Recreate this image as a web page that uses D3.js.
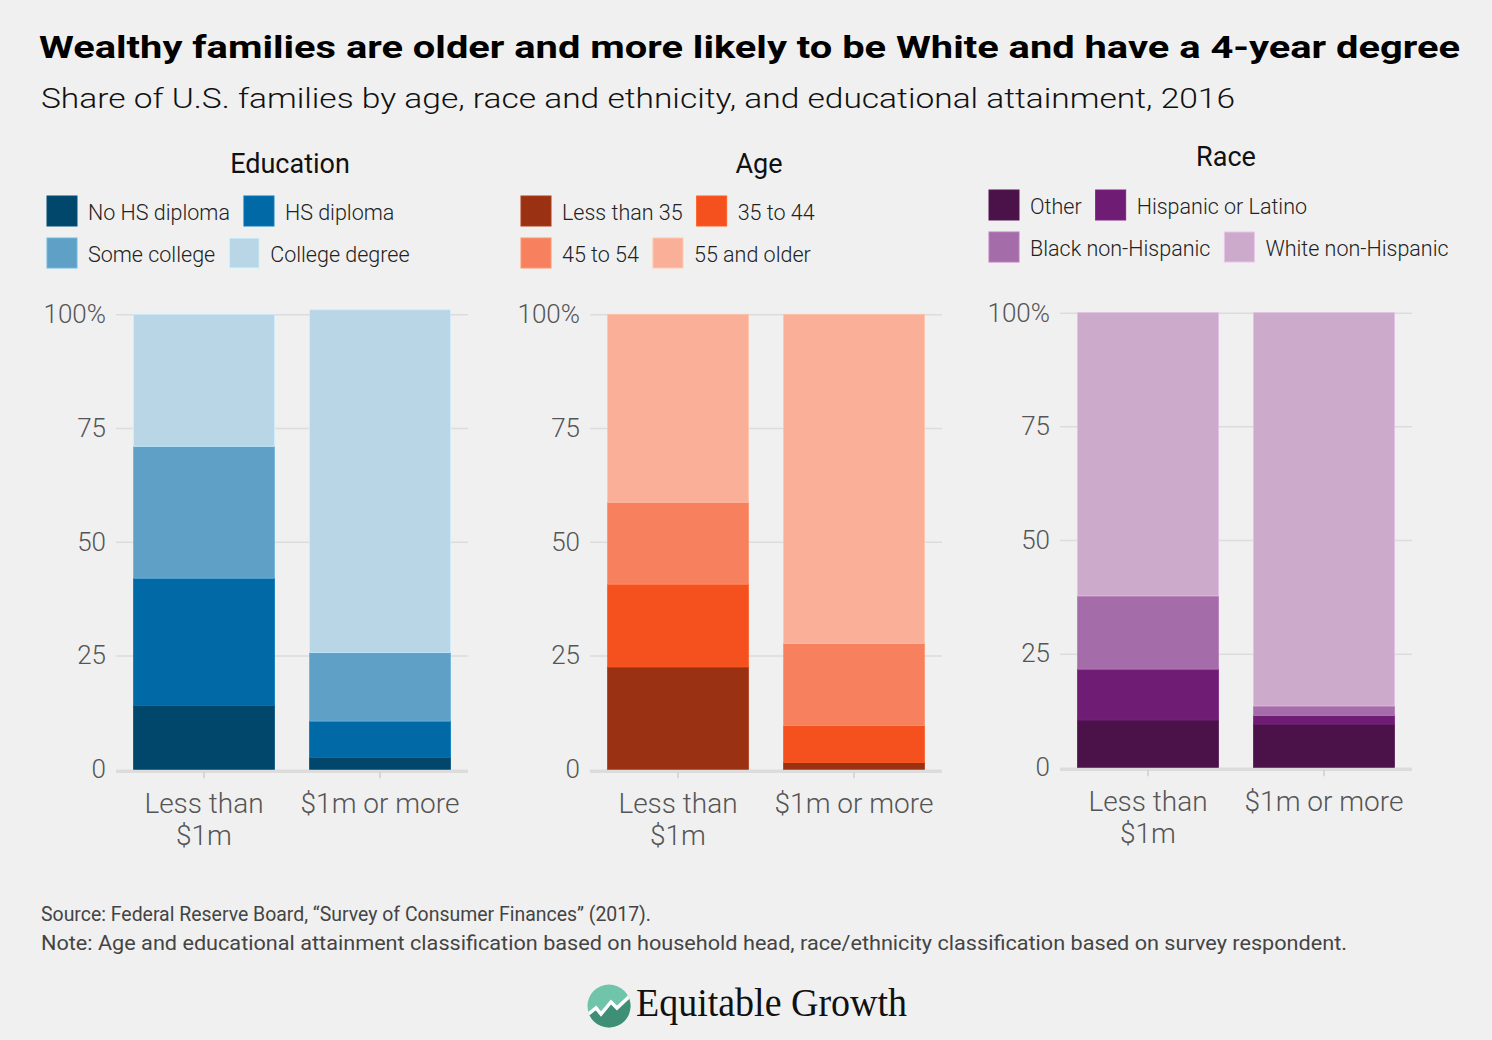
<!DOCTYPE html>
<html>
<head>
<meta charset="utf-8">
<script src="https://cdn.jsdelivr.net/npm/d3@7"></script>
<style>
  html, body { margin: 0; padding: 0; background: #f0f0f0; }
  svg { display: block; }
  text { font-family: Roboto, "Noto Sans", sans-serif; }
  text.serif { font-family: "Liberation Serif", "DejaVu Serif", serif; }
</style>
</head>
<body>
<svg id="chart" width="1492" height="1040"></svg>
<script>
// ---------------- DATA ----------------
const categories = ["Less than $1m", "$1m or more"];
const categoryLabels = [["Less than", "$1m"], ["$1m or more"]];
const yTicks = [0, 25, 50, 75, 100];

const educationKeys = ["No HS diploma", "HS diploma", "Some college", "College degree"];
const educationLess = [14, 28, 29, 29];
const educationMore = [2.6, 8, 15.1, 75.3];

const ageKeys = ["Less than 35", "35 to 44", "45 to 54", "55 and older"];
const ageLess = [22.5, 18.2, 18, 41.3];
const ageMore = [1.5, 8.1, 18.1, 72.3];

const raceKeys = ["Other", "Hispanic or Latino", "Black non-Hispanic", "White non-Hispanic"];
const raceLess = [10.4, 11.2, 16.1, 62.3];
const raceMore = [9.5, 1.9, 2.1, 86.5];

const educationColors = ["#01466b", "#0269a7", "#5ea0c6", "#b9d6e7"];
const ageColors = ["#9b3113", "#f5511e", "#f7815e", "#f9af98"];
const raceColors = ["#4a1249", "#6f1c74", "#a46ca8", "#ccaacc"];

// ---------------- LAYOUT ----------------
const svg = d3.select("#chart");
svg.append("rect").attr("width", 1492).attr("height", 1040).attr("fill", "#f0f0f0");

svg.append("text")
  .attr("x", 39).attr("y", 58)
  .attr("font-size", 31).attr("font-weight", 700).attr("fill", "#000")
  .attr("textLength", 1421).attr("lengthAdjust", "spacingAndGlyphs")
  .text("Wealthy families are older and more likely to be White and have a 4-year degree");

svg.append("text")
  .attr("x", 41).attr("y", 108)
  .attr("font-size", 28).attr("font-weight", 300).attr("fill", "#111")
  .attr("textLength", 1194).attr("lengthAdjust", "spacingAndGlyphs")
  .text("Share of U.S. families by age, race and ethnicity, and educational attainment, 2016");

const panels = [
  { title: "Education", titleX: 290, titleY: 173, keys: educationKeys, colors: educationColors,
    less: educationLess, more: educationMore, left: 116, top: 314.3, bottom: 769.3,
    legX: 47, legY: 196, clipRight: null },
  { title: "Age", titleX: 759, titleY: 173, keys: ageKeys, colors: ageColors,
    less: ageLess, more: ageMore, left: 590, top: 314.3, bottom: 769.3,
    legX: 521, legY: 196, clipRight: null },
  { title: "Race", titleX: 1226, titleY: 166, keys: raceKeys, colors: raceColors,
    less: raceLess, more: raceMore, left: 1060, top: 312.7, bottom: 767.3,
    legX: 989, legY: 190, clipRight: 1449 }
];
const plotW = 352;

panels.forEach((p, pi) => {
  const g = svg.append("g");

  // Panel title
  g.append("text").attr("x", p.titleX).attr("y", p.titleY)
    .attr("text-anchor", "middle").attr("font-size", 27).attr("fill", "#111")
    .text(p.title);

  // Legend
  const leg = g.append("g");
  if (p.clipRight) {
    const cid = "clip" + pi;
    svg.append("clipPath").attr("id", cid).append("rect")
      .attr("x", 0).attr("y", 0).attr("width", p.clipRight).attr("height", 1040);
    leg.attr("clip-path", `url(#${cid})`);
  }
  for (let row = 0; row < 2; row++) {
    let x = p.legX;
    const y = p.legY + row * 42;
    for (let col = 0; col < 2; col++) {
      const i = row * 2 + col;
      leg.append("rect").attr("x", x).attr("y", y).attr("width", 30).attr("height", 30)
        .attr("fill", p.colors[i])
        .attr("stroke", d3.color(p.colors[i]).brighter(0.4)).attr("stroke-width", 1);
      const t = leg.append("text").attr("x", x + 41).attr("y", y + 24)
        .attr("font-size", 21.5).attr("font-weight", 300).attr("fill", "#222")
        .text(p.keys[i]);
      x = x + 41 + t.node().getComputedTextLength() + 14;
    }
  }

  // Scales
  const y = d3.scaleLinear().domain([0, 100]).range([p.bottom, p.top]);
  const x = d3.scaleBand().domain(categories).range([p.left, p.left + plotW])
    .paddingInner(0.2).paddingOuter(0.1);

  // Gridlines / y axis
  const yAxis = d3.axisLeft(y).tickValues(yTicks)
    .tickFormat(d => d === 100 ? "100%" : d)
    .tickSize(-plotW).tickPadding(10);
  const ya = g.append("g").attr("transform", `translate(${p.left},0)`).call(yAxis);
  ya.select(".domain").remove();
  ya.selectAll(".tick line").attr("stroke", "#dcdcdc").attr("stroke-width", d => d === 0 ? 3.5 : 1.5);
  ya.selectAll(".tick line").attr("transform", d => d === 0 ? "translate(0,1.5)" : null);
  ya.selectAll(".tick text").attr("font-size", 26).attr("font-weight", 300)
    .attr("fill", "#555").attr("font-family", "Roboto, sans-serif");

  // Stacked bars
  const table = categories.map((c, ci) => {
    const row = { category: c };
    p.keys.forEach((k, ki) => { row[k] = (ci === 0 ? p.less : p.more)[ki]; });
    return row;
  });
  const series = d3.stack().keys(p.keys)(table);
  g.append("g").selectAll("g").data(series).join("g")
    .attr("fill", (d, i) => p.colors[i])
    .attr("stroke", (d, i) => d3.color(p.colors[i]).brighter(0.3))
    .attr("stroke-width", 0.8)
    .selectAll("rect").data(d => d).join("rect")
    .attr("x", d => x(d.data.category))
    .attr("width", x.bandwidth())
    .attr("y", d => y(d[1]))
    .attr("height", d => y(d[0]) - y(d[1]));

  // X axis
  const xAxis = d3.axisBottom(x).tickSize(6).tickFormat("");
  const xa = g.append("g").attr("transform", `translate(0,${p.bottom + 3})`).call(xAxis);
  xa.select(".domain").remove();
  xa.selectAll(".tick line").attr("stroke", "#cfcfcf").attr("stroke-width", 1.5);
  categories.forEach((c, ci) => {
    const t = g.append("text").attr("text-anchor", "middle")
      .attr("font-size", 28).attr("font-weight", 300).attr("fill", "#555");
    categoryLabels[ci].forEach((line, li) => {
      t.append("tspan").attr("x", x(c) + x.bandwidth() / 2)
        .attr("y", p.bottom + 44 + li * 32).text(line);
    });
  });
});

// Footer
svg.append("text").attr("x", 41).attr("y", 921)
  .attr("font-size", 21).attr("fill", "#444")
  .attr("textLength", 610).attr("lengthAdjust", "spacingAndGlyphs")
  .text("Source:  Federal Reserve Board, \u201cSurvey of Consumer Finances\u201d (2017).");
svg.append("text").attr("x", 41).attr("y", 950)
  .attr("font-size", 21).attr("fill", "#444")
  .attr("textLength", 1306).attr("lengthAdjust", "spacingAndGlyphs")
  .text("Note: Age and educational attainment classification based on household head, race/ethnicity classification based on survey respondent.");

// Logo
const logo = svg.append("g");
const defs = svg.append("defs");
defs.append("clipPath").attr("id", "logoClip").append("circle")
  .attr("cx", 609).attr("cy", 1006).attr("r", 21.5);
const lg = logo.append("g").attr("clip-path", "url(#logoClip)");
lg.append("rect").attr("x", 587).attr("y", 984).attr("width", 44).attr("height", 44).attr("fill", "#6fc4aa");
const zig = [[586, 1016], [596, 1008], [601, 1014], [611, 1002], [617, 1008], [632, 994]];
lg.append("path")
  .attr("d", d3.line()(zig.concat([[632, 1030], [586, 1030]])) + "Z")
  .attr("fill", "#3f8f77");
lg.append("path").attr("d", d3.line()(zig)).attr("fill", "none")
  .attr("stroke", "#fff").attr("stroke-width", 3.5).attr("stroke-linejoin", "miter");
logo.append("text").attr("class", "serif").attr("x", 636).attr("y", 1016)
  .attr("font-size", 40).attr("fill", "#111")
  .attr("textLength", 271).attr("lengthAdjust", "spacingAndGlyphs")
  .text("Equitable Growth");
</script>
</body>
</html>
